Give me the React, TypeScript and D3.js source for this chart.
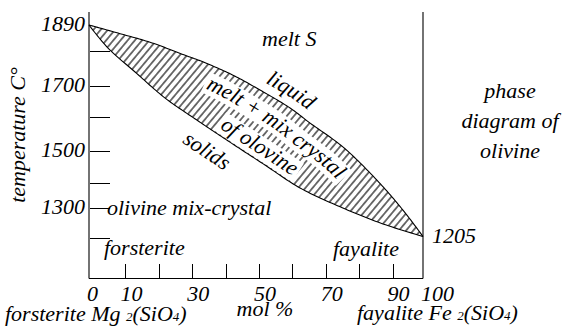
import React from 'react';
import * as d3 from 'd3';

// ---- data ----
const liquidusMol = [0, 8.7, 18.9, 28.4, 34.1, 43.1, 51.2, 60.2, 66.2, 76.0, 86.2, 94.0, 100];
const liquidusT = [1890, 1862, 1828, 1789, 1769, 1731, 1687, 1629, 1582, 1512, 1409, 1293, 1205];
const solidusMol = [0, 5.7, 13.8, 22.8, 32.3, 42.2, 52.7, 63.2, 76.0, 88.0, 100];
const solidusT = [1890, 1810, 1740, 1661, 1591, 1526, 1456, 1380, 1300, 1247, 1205];

const tempAxisValues = [1200, 1300, 1400, 1500, 1600, 1700, 1800, 1890];
const tempTicks = [1800, 1700, 1600, 1500, 1400, 1300, 1200];
const tempLabels = [1890, 1700, 1500, 1300];
const molTicks = [10, 20, 30, 40, 50, 60, 70, 80, 90];
const molLabels = [0, 10, 30, 50, 70, 90, 100];
const endLabel = 1205;

const titleLines = ['phase', 'diagram of', 'olivine'];

const FONT = 'Times New Roman';

type Pt = [number, number];

const x = d3.scaleLinear().domain([0, 100]).range([89, 423]);
const y = d3.scaleLinear().domain(tempAxisValues).range([238, 208, 183, 151, 117, 86, 51, 25]);

function densify(pts: Pt[], N = 16): Pt[] {
  const out: Pt[] = [];
  let cx = 0;
  let cy = 0;
  const ctx: any = {
    moveTo(px: number, py: number) {
      out.push([px, py]);
      cx = px;
      cy = py;
    },
    lineTo(px: number, py: number) {
      for (let i = 1; i <= N; i++) {
        const t = i / N;
        out.push([cx + (px - cx) * t, cy + (py - cy) * t]);
      }
      cx = px;
      cy = py;
    },
    bezierCurveTo(x1: number, y1: number, x2: number, y2: number, px: number, py: number) {
      for (let i = 1; i <= N; i++) {
        const t = i / N;
        const u = 1 - t;
        out.push([
          u * u * u * cx + 3 * u * u * t * x1 + 3 * u * t * t * x2 + t * t * t * px,
          u * u * u * cy + 3 * u * u * t * y1 + 3 * u * t * t * y2 + t * t * t * py,
        ]);
      }
      cx = px;
      cy = py;
    },
    closePath() {},
  };
  d3.line().curve(d3.curveCatmullRom.alpha(0.5)).context(ctx)(pts);
  return out;
}

class Poly {
  pts: Pt[];
  cum: number[];
  total: number;
  constructor(pts: Pt[]) {
    this.pts = pts;
    this.cum = [0];
    for (let i = 1; i < pts.length; i++) {
      this.cum.push(this.cum[i - 1] + Math.hypot(pts[i][0] - pts[i - 1][0], pts[i][1] - pts[i - 1][1]));
    }
    this.total = this.cum[this.cum.length - 1];
  }
  at(l: number): Pt {
    const L = Math.max(0, Math.min(this.total, l));
    const i = d3.bisectLeft(this.cum, L);
    if (i <= 0) return this.pts[0];
    if (i >= this.pts.length) return this.pts[this.pts.length - 1];
    const a = this.pts[i - 1];
    const b = this.pts[i];
    const seg = this.cum[i] - this.cum[i - 1] || 1;
    const t = (L - this.cum[i - 1]) / seg;
    return [a[0] + (b[0] - a[0]) * t, a[1] + (b[1] - a[1]) * t];
  }
  lengthAtX(px: number) {
    let lo = 0;
    let hi = this.total;
    for (let i = 0; i < 40; i++) {
      const mid = (lo + hi) / 2;
      if (this.at(mid)[0] < px) lo = mid;
      else hi = mid;
    }
    return (lo + hi) / 2;
  }
  offset(l0: number, l1: number, dA: number, dB: number, n: number): Pt[] {
    const out: Pt[] = [];
    for (let i = 0; i <= n; i++) {
      const t = i / n;
      const l = l0 + (l1 - l0) * t;
      const q = this.at(l);
      const a = this.at(l - 1.5);
      const b = this.at(l + 1.5);
      let tx = b[0] - a[0];
      let ty = b[1] - a[1];
      const m = Math.hypot(tx, ty) || 1;
      tx /= m;
      ty /= m;
      const d = dA + (dB - dA) * t;
      out.push([q[0] - ty * d, q[1] + tx * d]);
    }
    return out;
  }
}

let measureCtx: CanvasRenderingContext2D | null = null;
function measure(s: string, size = 22) {
  try {
    if (!measureCtx) measureCtx = document.createElement('canvas').getContext('2d');
    if (measureCtx) {
      measureCtx.font = `italic ${size}px "${FONT}"`;
      return measureCtx.measureText(s).width;
    }
  } catch (e) {
    /* ignore */
  }
  return s.length * size * 0.42;
}

const lin = d3.line();

export default function App() {
  const liq: Pt[] = liquidusMol.map((m, i) => [x(m), y(liquidusT[i])]);
  const sol: Pt[] = solidusMol.map((m, i) => [x(m), y(solidusT[i])]);
  const liqPoly = new Poly(densify(liq));
  const solPoly = new Poly(densify(sol));
  const liqD = lin(liqPoly.pts) as string;
  const solD = lin(solPoly.pts) as string;
  const areaD = (lin(liqPoly.pts.concat(solPoly.pts.slice().reverse())) as string) + 'Z';

  const curved = (
    base: Poly,
    text: string,
    centerMol: number,
    dA: number,
    dB: number,
    band: boolean,
    id: string
  ) => {
    const lc = base.lengthAtX(x(centerMol));
    const H = 150;
    const l0 = Math.max(0, lc - H);
    const l1 = Math.min(base.total, lc + H);
    const n = 150;
    const pts = base.offset(l0, l1, dA, dB, n);
    const bp = new Poly(pts);
    const ci = Math.round(((lc - l0) / (l1 - l0)) * n);
    const sc = bp.cum[ci];
    let bandD: string | null = null;
    if (band) {
      const w = measure(text);
      bandD = lin(bp.offset(sc - w / 2 - 3, sc + w / 2 + 3, -6, -6, 60)) as string;
    }
    return { id, text, d: lin(pts) as string, sc, bandD };
  };

  const labels = [
    curved(liqPoly, 'liquid', 58, -9, -9, false, 'lp0'),
    curved(liqPoly, 'melt + mix crystal', 60, 22, 30, true, 'lp1'),
    curved(solPoly, 'of olovine', 49, -6, -6, true, 'lp2'),
    curved(solPoly, 'solids', 38.6, 27, 27, false, 'lp3'),
  ];

  const T = (props: any) => (
    <text fontFamily={FONT} fontStyle="italic" fontSize={22} fill="#000" {...props} />
  );

  return (
    <svg
      width={575}
      height={331}
      style={{ position: 'absolute', left: 0, top: 0, background: '#fff' }}
    >
      <defs>
        <pattern
          id="hatch"
          patternUnits="userSpaceOnUse"
          width={5.5}
          height={10}
          patternTransform="rotate(40)"
        >
          <line x1={2.75} x2={2.75} y1={-1} y2={11} stroke="#000" strokeWidth={1.1} />
        </pattern>
        {labels.map((l) => (
          <path key={l.id} id={l.id} d={l.d} fill="none" />
        ))}
      </defs>

      <path d={areaD} fill="url(#hatch)" stroke="none" />
      {labels.map((l) =>
        l.bandD ? (
          <path key={'b' + l.id} d={l.bandD} fill="none" stroke="#fff" strokeWidth={22} />
        ) : null
      )}

      <path d={liqD} fill="none" stroke="#000" strokeWidth={1.1} />
      <path d={solD} fill="none" stroke="#000" strokeWidth={1.1} />

      <g stroke="#000" strokeWidth={1.1}>
        <line x1={x(0)} x2={x(0)} y1={12} y2={278.5} />
        <line x1={x(0)} x2={x(100)} y1={278.5} y2={278.5} />
        <line x1={x(100)} x2={x(100)} y1={12} y2={278.5} />
        {tempTicks.map((d) => (
          <line
            key={'yt' + d}
            x1={x(0) + 1}
            x2={x(0) + 21}
            y1={Math.round(y(d)) + 0.5}
            y2={Math.round(y(d)) + 0.5}
            strokeWidth={1}
          />
        ))}
        {molTicks.map((d) => (
          <line
            key={'xt' + d}
            x1={Math.round(x(d) + 3) + 0.5}
            x2={Math.round(x(d) + 3) + 0.5}
            y1={264}
            y2={278}
            strokeWidth={1}
          />
        ))}
      </g>

      {tempLabels.map((d) => (
        <T key={'yl' + d} x={x(0) - 4} y={y(d) + 6} textAnchor="end">
          {d}
        </T>
      ))}
      {molLabels.map((d) => (
        <T key={'xl' + d} x={x(d) - 2} y={301}>
          {d}
        </T>
      ))}
      <T x={x(100) + 9} y={y(endLabel) + 6}>
        {endLabel}
      </T>

      <T transform="translate(25,135) rotate(-90)" textAnchor="middle">
        temperature C°
      </T>

      <T x={5} y={321}>
        forsterite Mg <tspan fontSize={13}>2</tspan>(SiO<tspan fontSize={13}>4</tspan>)
      </T>
      <T x={357} y={320}>
        fayalite Fe <tspan fontSize={13}>2</tspan>(SiO<tspan fontSize={13}>4</tspan>)
      </T>
      <T x={265} y={316} textAnchor="middle">
        mol %
      </T>

      <T x={262} y={46}>melt S</T>
      <T x={107} y={215}>olivine mix-crystal</T>
      <T x={104} y={255}>forsterite</T>
      <T x={333} y={256}>fayalite</T>

      {titleLines.map((s, i) => (
        <T key={s} x={510} y={98 + i * 30} textAnchor="middle">
          {s}
        </T>
      ))}

      {labels.map((l) => (
        <T key={'t' + l.id} textAnchor="middle">
          <textPath href={'#' + l.id} startOffset={l.sc}>
            {l.text}
          </textPath>
        </T>
      ))}
    </svg>
  );
}
